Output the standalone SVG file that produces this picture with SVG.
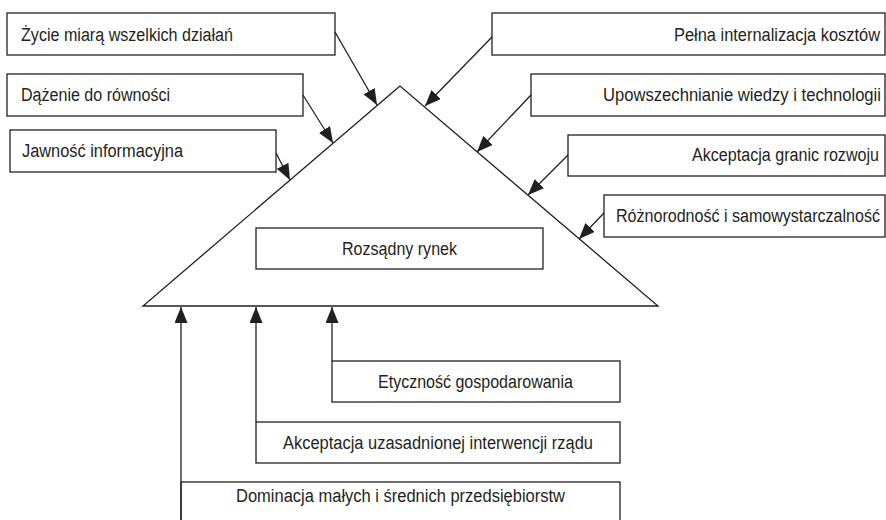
<svg xmlns="http://www.w3.org/2000/svg" width="886" height="520" viewBox="0 0 886 520">
<style>
.box{fill:#fff;stroke:#231f20;stroke-width:1.3}
.tri{fill:#fff;stroke:#231f20;stroke-width:1.3}
.t{font-family:"Liberation Sans Narrow","Liberation Sans",Arial,sans-serif;font-size:18px;fill:#231f20}
.c{fill:none;stroke:#231f20;stroke-width:1.3;marker-end:url(#ah)}
</style>
<defs>
<marker id="ah" markerUnits="userSpaceOnUse" viewBox="0 0 16 13" markerWidth="16" markerHeight="13" refX="16" refY="6.5" orient="auto">
<path d="M0,0 L16,6.5 L0,13 z" fill="#231f20"/>
</marker>
</defs>
<rect width="886" height="520" fill="#fff"/>
<g id="triangle"><polygon class="tri" points="400,86 143,306 658,306"/></g>
<g id="n-zycie"><rect class="box" x="7" y="13" width="328" height="42"/><text class="t" x="21" y="41" textLength="212" lengthAdjust="spacingAndGlyphs">Życie miarą wszelkich działań</text></g>
<g id="n-dazenie"><rect class="box" x="7" y="74" width="296" height="42"/><text class="t" x="21" y="101" textLength="149" lengthAdjust="spacingAndGlyphs">Dążenie do równości</text></g>
<g id="n-jawnosc"><rect class="box" x="10" y="130" width="266" height="42"/><text class="t" x="22" y="157" textLength="161" lengthAdjust="spacingAndGlyphs">Jawność informacyjna</text></g>
<g id="n-pelna"><rect class="box" x="492" y="13" width="393" height="42"/><text class="t" text-anchor="end" x="880" y="41" textLength="206" lengthAdjust="spacingAndGlyphs">Pełna internalizacja kosztów</text></g>
<g id="n-upowsz"><rect class="box" x="531" y="74" width="354" height="42"/><text class="t" text-anchor="end" x="881" y="101" textLength="278" lengthAdjust="spacingAndGlyphs">Upowszechnianie wiedzy i technologii</text></g>
<g id="n-granic"><rect class="box" x="568" y="135" width="317" height="41"/><text class="t" text-anchor="end" x="879" y="161" textLength="187" lengthAdjust="spacingAndGlyphs">Akceptacja granic rozwoju</text></g>
<g id="n-roznor"><rect class="box" x="604" y="195" width="281" height="42"/><text class="t" text-anchor="end" x="880" y="222" textLength="264" lengthAdjust="spacingAndGlyphs">Różnorodność i samowystarczalność</text></g>
<g id="n-rynek"><rect class="box" x="256" y="228" width="287" height="41"/><text class="t" text-anchor="middle" x="399.5" y="255" textLength="115" lengthAdjust="spacingAndGlyphs">Rozsądny rynek</text></g>
<g id="n-etycznosc"><rect class="box" x="332" y="361" width="288" height="41"/><text class="t" text-anchor="middle" x="475.5" y="388" textLength="195" lengthAdjust="spacingAndGlyphs">Etyczność gospodarowania</text></g>
<g id="n-interwencja"><rect class="box" x="256" y="422" width="364" height="41"/><text class="t" text-anchor="middle" x="438" y="449" textLength="310" lengthAdjust="spacingAndGlyphs">Akceptacja uzasadnionej interwencji rządu</text></g>
<g id="n-dominacja"><rect class="box" x="181" y="482" width="439" height="50"/><text class="t" text-anchor="middle" x="400.5" y="502" textLength="329" lengthAdjust="spacingAndGlyphs">Dominacja małych i średnich przedsiębiorstw</text></g>
<g id="connectors">
<line class="c" x1="335" y1="32" x2="377" y2="105"/>
<line class="c" x1="303" y1="95" x2="333" y2="143"/>
<line class="c" x1="276" y1="153" x2="290" y2="180"/>
<line class="c" x1="492" y1="37" x2="425" y2="106"/>
<line class="c" x1="531" y1="95" x2="477" y2="152"/>
<line class="c" x1="568" y1="155" x2="528" y2="195"/>
<line class="c" x1="604" y1="213" x2="579" y2="239"/>
<line class="c" x1="181" y1="520" x2="181" y2="307"/>
<line class="c" x1="256" y1="422" x2="256" y2="307"/>
<line class="c" x1="332" y1="361" x2="332" y2="307"/>
</g>
</svg>
